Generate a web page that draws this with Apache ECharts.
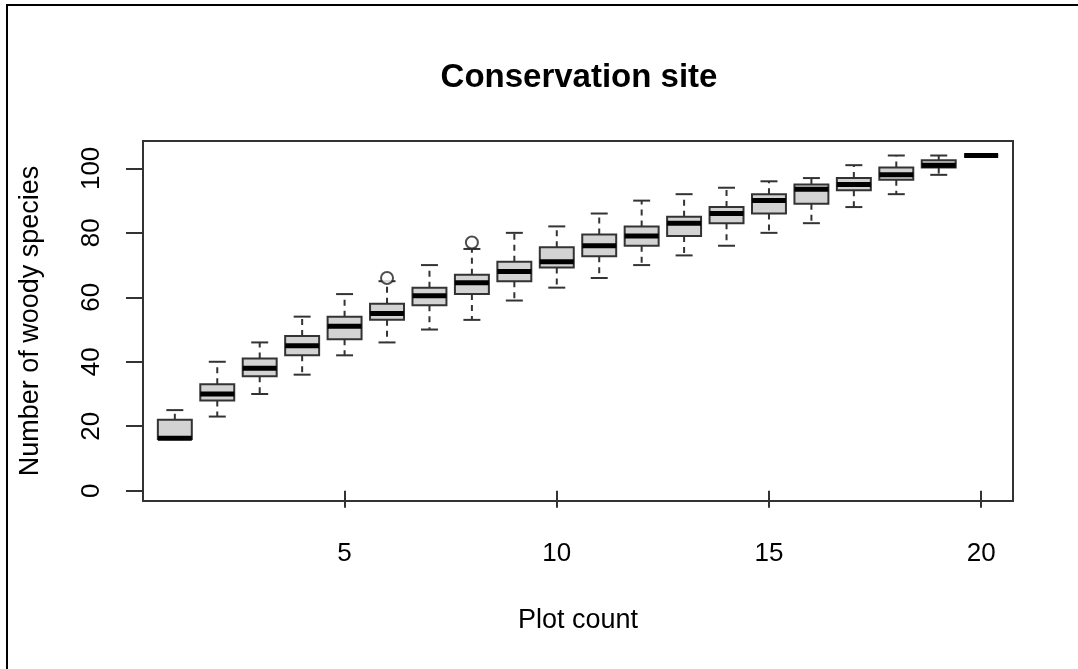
<!DOCTYPE html>
<html>
<head>
<meta charset="utf-8">
<script src="https://cdn.jsdelivr.net/npm/echarts@6/dist/echarts.min.js"></script>
<style>
html,body{margin:0;padding:0;background:#fff;}
#chart{width:1078px;height:669px;}
</style>
</head>
<body>
<div id="chart"></div>
<script>
// ---- data ----
const plotCounts = [1,2,3,4,5,6,7,8,9,10,11,12,13,14,15,16,17,18,19,20];
const whiskerLow = [16,23,30,36,42,46,50,53,59,63,66,70,73,76,80,83,88,92,98,104];
const quartile1  = [16,28,35.5,42,47,53,57.5,61,65,69.25,72.75,76,79,83,86,89,93.25,96.5,100.25,104];
const medians    = [16.3,30,38,45,51,55,60.5,64.5,68,71,76,79,83,86,90,93.5,95,98,101,104];
const quartile3  = [22,33,41,48,54,58,63,67,71,75.5,79.5,82,85,88,92,95,97,100.25,102.5,104];
const whiskerHigh= [25,40,46,54,61,65,70,75,80,82,86,90,92,94,96,97,101,104,104,104];
const outlierX   = [6,8];
const outlierY   = [66,77];
const xTicks = [5,10,15,20];
const yTicks = [0,20,40,60,80,100];

const boxData = plotCounts.map((c,i)=>[c, whiskerLow[i], quartile1[i], medians[i], quartile3[i], whiskerHigh[i]]);
const outlierData = outlierX.map((x,i)=>[x, outlierY[i]]);

const BOX_W = 0.8;
const LINE = '#333';
const FONT = '"Liberation Sans", Arial, sans-serif';

const chart = echarts.init(document.getElementById('chart'), null, {renderer:'canvas'});

function renderBox(params, api){
  const x = api.value(0);
  const pLow = api.coord([x, api.value(1)]);
  const pQ1  = api.coord([x, api.value(2)]);
  const pMed = api.coord([x, api.value(3)]);
  const pQ3  = api.coord([x, api.value(4)]);
  const pHigh= api.coord([x, api.value(5)]);
  const bw = api.size([BOX_W, 0])[0];
  const cw = bw / 2;
  const cx = pMed[0];
  const children = [];
  children.push({type:'line', shape:{x1:cx,y1:pQ3[1],x2:cx,y2:pHigh[1]},
    style:{stroke:LINE,lineWidth:2,lineDash:[6,5]}});
  children.push({type:'line', shape:{x1:cx,y1:pQ1[1],x2:cx,y2:pLow[1]},
    style:{stroke:LINE,lineWidth:2,lineDash:[6,5]}});
  children.push({type:'line', shape:{x1:cx-cw/2,y1:pHigh[1],x2:cx+cw/2,y2:pHigh[1]},
    style:{stroke:LINE,lineWidth:2}});
  children.push({type:'line', shape:{x1:cx-cw/2,y1:pLow[1],x2:cx+cw/2,y2:pLow[1]},
    style:{stroke:LINE,lineWidth:2}});
  children.push({type:'rect', shape:{x:cx-bw/2,y:pQ3[1],width:bw,height:pQ1[1]-pQ3[1]},
    style:{fill:'#d3d3d3',stroke:LINE,lineWidth:2}});
  children.push({type:'line', shape:{x1:cx-bw/2,y1:pMed[1],x2:cx+bw/2,y2:pMed[1]},
    style:{stroke:'#000',lineWidth:5}});
  return {type:'group', children};
}

chart.setOption({
  animation:false,
  backgroundColor:'#fff',
  title:{
    text:'Conservation site',
    left:574, top:56, textAlign:'center',
    textStyle:{fontFamily:FONT,fontSize:33,fontWeight:'bold',color:'#000'}
  },
  graphic:[{
    type:'rect', shape:{x:7,y:5,width:1200,height:800},
    style:{fill:'none',stroke:'#000',lineWidth:2}, silent:true
  }],
  grid:{left:143, top:141, width:870, height:360, show:true, borderColor:LINE, borderWidth:2, backgroundColor:'transparent'},
  xAxis:{
    type:'value', min:0.25, max:20.75,
    name:'Plot count', nameLocation:'middle', nameGap:106,
    nameTextStyle:{fontFamily:FONT,fontSize:27,color:'#000'},
    axisLine:{show:false},
    axisTick:{show:true, length:17, customValues:xTicks, lineStyle:{color:LINE,width:2}},
    axisLabel:{customValues:xTicks, margin:40, fontFamily:FONT, fontSize:26, color:'#000'},
    splitLine:{show:false}
  },
  yAxis:{
    type:'value', min:-3.2, max:108.5,
    name:'Number of woody species', nameLocation:'middle', nameGap:99,
    nameTextStyle:{fontFamily:FONT,fontSize:27,color:'#000'},
    axisLine:{show:false},
    axisTick:{show:true, length:17, customValues:yTicks, lineStyle:{color:LINE,width:2}},
    axisLabel:{customValues:yTicks, rotate:90, margin:38, fontFamily:FONT, fontSize:26, color:'#000'},
    splitLine:{show:false}
  },
  series:[
    {type:'custom', renderItem:renderBox, data:boxData, encode:{x:0,y:[1,2,3,4,5]}, z:2},
    {type:'scatter', data:outlierData, symbol:'circle', symbolSize:12,
      itemStyle:{color:'#fff', borderColor:'#222', borderWidth:2}, z:3}
  ]
});
</script>
</body>
</html>
